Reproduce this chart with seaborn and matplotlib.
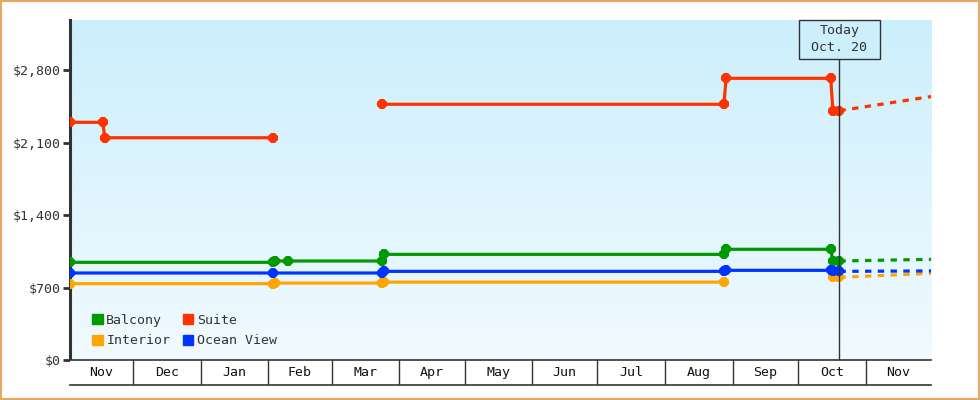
"""
# cruise cabin price history chart
#"""
import numpy as np
import pandas as pd
import seaborn as sns
import matplotlib.pyplot as plt
from matplotlib.patches import Patch, Rectangle
from matplotlib.colors import LinearSegmentedColormap
from matplotlib.transforms import blended_transform_factory

# ---- data ----
# seg = line piece id (a new id means a gap in the line)
balcony_dates = ['2023-11-02', '2024-02-03', '2024-02-04', '2024-02-10', '2024-03-24',
                 '2024-03-25', '2024-08-28', '2024-08-29', '2024-10-16', '2024-10-17',
                 '2024-10-20']
balcony_prices = [943, 943, 956, 956, 956, 1020, 1020, 1069, 1069, 956, 956]
balcony_segs = [0, 0, 0, 0, 0, 0, 0, 0, 0, 0, 0]

suite_dates = ['2023-11-02', '2023-11-17', '2023-11-18', '2024-02-03', '2024-03-24',
               '2024-08-28', '2024-08-29', '2024-10-16', '2024-10-17', '2024-10-20']
suite_prices = [2295, 2295, 2146, 2146, 2469, 2469, 2720, 2720, 2407, 2407]
suite_segs = [0, 0, 0, 0, 1, 1, 1, 1, 1, 1]

interior_dates = ['2023-11-02', '2024-02-03', '2024-02-04', '2024-03-24', '2024-03-25',
                  '2024-08-28', '2024-10-17', '2024-10-20']
interior_prices = [737, 737, 743, 743, 752, 752, 798, 798]
interior_segs = [0, 0, 0, 0, 0, 0, 1, 1]

ocean_dates = ['2023-11-02', '2024-02-03', '2024-03-24', '2024-03-25', '2024-08-28',
               '2024-08-29', '2024-10-16', '2024-10-17', '2024-10-20']
ocean_prices = [840, 840, 840, 856, 856, 866, 866, 860, 860]
ocean_segs = [0, 0, 0, 0, 0, 0, 0, 0, 0]

# projection from today to the end of the axis (dotted)
forecast_dates = ['2024-10-20', '2024-12-01']
balcony_forecast = [956, 972]
suite_forecast = [2407, 2544]
interior_forecast = [798, 837]
ocean_forecast = [856, 860]

today = '2024-10-20'
today_label = 'Today\n Oct. 20 '
x_start, x_end = '2023-11-02', '2024-12-01'
y_ticks = [0, 700, 1400, 2100, 2800]

colors = {'Balcony': '#009900', 'Suite': '#FF3300',
          'Interior': '#FFA500', 'Ocean View': '#0033FF'}
legend_order = ['Balcony', 'Interior', 'Suite', 'Ocean View']

series = {
    'Balcony': (balcony_dates, balcony_prices, balcony_segs, balcony_forecast),
    'Suite': (suite_dates, suite_prices, suite_segs, suite_forecast),
    'Interior': (interior_dates, interior_prices, interior_segs, interior_forecast),
    'Ocean View': (ocean_dates, ocean_prices, ocean_segs, ocean_forecast),
}

sns.set_style('white')
plt.rcParams['font.family'] = ['DejaVu Sans Mono', 'DejaVu Sans']
plt.rcParams['font.size'] = 9.5
INK = '#333333'

fig = plt.figure(figsize=(9.8, 4.0), dpi=100)
ax = fig.add_axes([70 / 980, 40 / 400, 861 / 980, 340 / 400])
band = fig.add_axes([70 / 980, 15 / 400, 861 / 980, 25 / 400], sharex=ax)

# gradient background
grad = LinearSegmentedColormap.from_list('bg', ['#CCEFFC', '#F1FAFF'])
ax.imshow(np.linspace(0, 1, 256).reshape(-1, 1), cmap=grad, aspect='auto',
          extent=[0, 1, 0, 1], transform=ax.transAxes, zorder=0)

for name, (d, p, s, fc) in series.items():
    df = pd.DataFrame({'date': pd.to_datetime(d), 'price': p, 'seg': s})
    sns.lineplot(data=df, x='date', y='price', units='seg', estimator=None,
                 sort=False, color=colors[name], lw=2.3, marker='8',
                 markersize=8, markeredgewidth=0, ax=ax, zorder=3)
    fdf = pd.DataFrame({'date': pd.to_datetime(forecast_dates), 'price': fc})
    sns.lineplot(data=fdf, x='date', y='price', estimator=None, color=colors[name],
                 lw=2.3, ax=ax, zorder=2, dashes=False)
    ax.lines[-1].set_linestyle((0, (2, 2)))

# today marker
t = pd.Timestamp(today)
ax.axvline(t, color=INK, lw=1, zorder=4)
trans = blended_transform_factory(ax.transData, ax.transAxes)
ax.text(t, 0.987, today_label, transform=trans, ha='center', va='top',
        color=INK, linespacing=1.4, zorder=5,
        bbox=dict(boxstyle='square,pad=0.35', fc='#CDEFFC', ec=INK, lw=1))

ax.set_xlim(pd.Timestamp(x_start), pd.Timestamp(x_end))
ax.set_ylim(0, 3283)
ax.set_yticks(y_ticks)
ax.set_yticklabels([f'${v:,}' for v in y_ticks], color=INK)
ax.tick_params(axis='y', length=5, width=2, color=INK, pad=2, left=True)
ax.tick_params(axis='x', bottom=False, labelbottom=False)
ax.set_xlabel('')
ax.set_ylabel('')
for side in ['top', 'right', 'bottom']:
    ax.spines[side].set_visible(False)
ax.spines['left'].set_color(INK)
ax.spines['left'].set_linewidth(2.2)

# month band below the plot
months = pd.date_range('2023-11-01', '2024-12-01', freq='MS')
lo, hi = pd.Timestamp(x_start), pd.Timestamp(x_end)
for m0, m1 in zip(months[:-1], months[1:]):
    if m0 > lo:
        band.axvline(m0, color=INK, lw=1)
    a, b = max(m0, lo), min(m1, hi)
    band.text(a + (b - a) / 2, 0.5, m0.strftime('%b'), ha='center', va='center',
              color='#111111', transform=blended_transform_factory(band.transData, band.transAxes))
band.set_ylim(0, 1)
band.set_yticks([])
band.tick_params(axis='x', bottom=False, labelbottom=False)
for side in ['left', 'right']:
    band.spines[side].set_visible(False)
for side in ['top', 'bottom']:
    band.spines[side].set_color(INK)
    band.spines[side].set_linewidth(1.2)
band.set_facecolor('white')

handles = [Patch(color=colors[n], label=n) for n in legend_order]
ax.legend(handles=handles, ncol=2, loc='lower left', bbox_to_anchor=(0.02, 0.022),
          frameon=False, handlelength=0.8, handleheight=0.8, handletextpad=0.25,
          columnspacing=0.95, labelspacing=0.55, borderaxespad=0, fontsize=9.5,
          labelcolor=INK)

# orange frame round the whole picture
fig.patches.append(Rectangle((0.001, 0.0015), 0.998, 0.997, transform=fig.transFigure,
                             fill=False, ec='#E8A862', lw=1.5))

fig.savefig('out.png', dpi=100, facecolor='white')
